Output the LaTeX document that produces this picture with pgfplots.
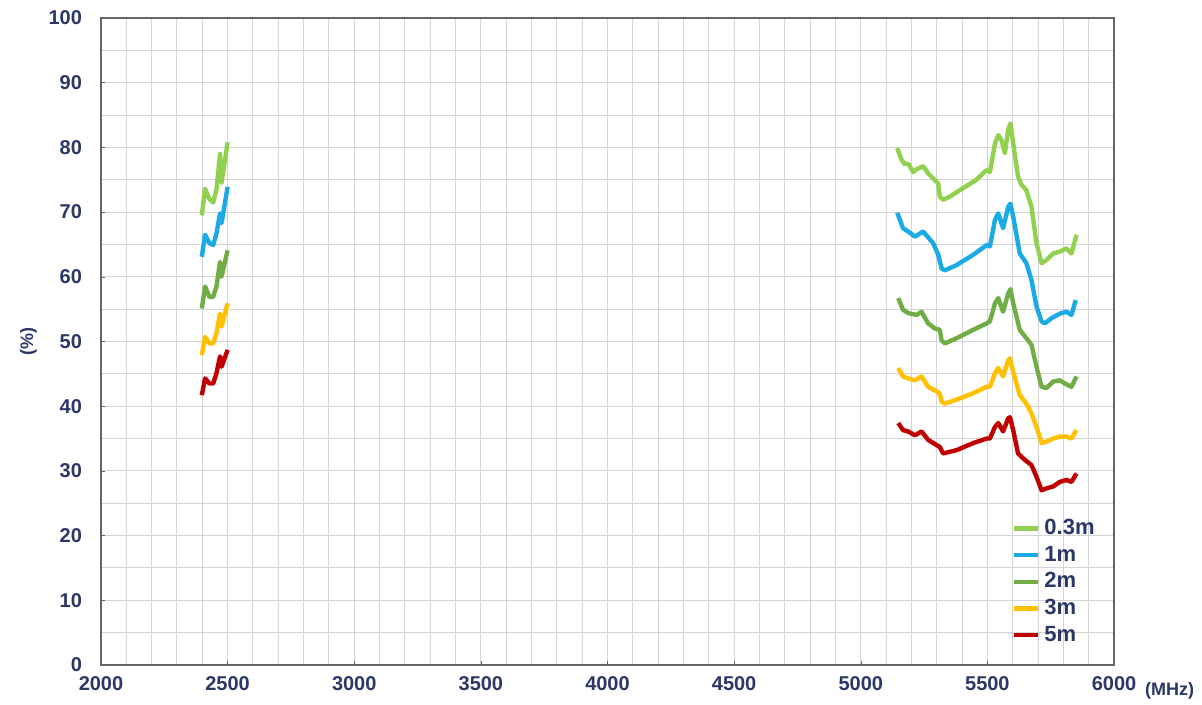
\documentclass[border=0pt]{standalone}
\usepackage{pgfplots}
\pgfplotsset{compat=1.18}
\usepackage{fontspec}
\setmainfont{Liberation Sans}
\definecolor{c03}{HTML}{92D050}
\definecolor{c1}{HTML}{1AABE6}
\definecolor{c2}{HTML}{70AD47}
\definecolor{c3}{HTML}{FFC000}
\definecolor{c5}{HTML}{C00000}
\definecolor{navy}{HTML}{2B3766}
\definecolor{gridc}{HTML}{D4D4D4}
\begin{document}
\begin{tikzpicture}
\begin{axis}[
  name=ax,
  scale only axis,
  width=506.5pt, height=323.5pt,
  xmin=2000, xmax=6000, ymin=0, ymax=100,
  xtick={2000,2500,...,6000},
  ytick={0,10,...,100},
  minor x tick num=4,
  minor y tick num=1,
  grid=both,
  major grid style={gridc, line width=0.5pt},
  minor grid style={gridc, line width=0.5pt},
  axis line style={draw=gray!80!black, line width=0.8pt},
  tick style={draw=gray!80!black},
  major tick length=2pt, minor tick length=0pt,
  tick pos=left,
  /pgf/number format/assume math mode=true,
  /pgf/number format/1000 sep={},
  ticklabel style={font=\fontsize{10}{12}\selectfont\bfseries, text=navy},
  xticklabel style={yshift=-2pt},
  yticklabel style={xshift=-6pt},
  ylabel={(\%)},
  ylabel style={font=\fontsize{9}{11}\selectfont\bfseries, text=navy, yshift=-1pt},
  legend style={draw=none, fill=none, at={(rel axis cs:0.899,0.232)}, anchor=north west,
    font=\fontsize{11}{13}\selectfont\bfseries, text=navy, row sep=0.2pt,
    inner sep=0pt},
  legend cell align=left,
  legend image code/.code={\draw[#1, line width=2.2pt] (0pt,0pt) -- (12pt,0pt);},
  every axis plot/.append style={line width=2.2pt, line join=round, mark=none},
]
% 2.4 GHz band
\addplot[c03, forget plot] coordinates {(2398,69.5)(2411,73.6)(2428,72.0)(2443,71.5)(2456,73.5)(2470,79.0)(2476,74.5)(2500,80.8)};
\addplot[c1, forget plot] coordinates {(2398,63.1)(2411,66.5)(2428,65.2)(2443,64.9)(2456,66.7)(2470,69.8)(2476,68.3)(2500,73.9)};
\addplot[c2, forget plot] coordinates {(2398,55.1)(2411,58.5)(2428,56.9)(2443,56.9)(2456,58.5)(2470,62.3)(2476,60.0)(2500,64.1)};
\addplot[c3, forget plot] coordinates {(2398,47.9)(2411,50.7)(2428,49.7)(2443,49.7)(2456,51.3)(2470,54.3)(2476,52.3)(2500,55.9)};
\addplot[c5, forget plot] coordinates {(2398,41.7)(2411,44.3)(2428,43.5)(2443,43.5)(2456,45.1)(2470,47.7)(2476,46.1)(2500,48.7)};
% 5 GHz band
\addplot[c03] coordinates {(5144,79.9)(5161,78.1)(5174,77.4)(5187,77.5)(5207,76.2)(5220,76.6)(5246,77.1)(5266,76.0)(5286,75.2)(5306,74.4)(5312,72.4)(5325,71.9)(5352,72.4)(5404,73.7)(5457,75.0)(5497,76.5)(5510,76.2)(5530,80.6)(5543,81.9)(5556,81.1)(5569,79.1)(5582,82.7)(5591,83.7)(5602,80.6)(5621,75.5)(5635,74.2)(5654,73.4)(5674,70.8)(5694,65.2)(5714,62.1)(5733,62.6)(5760,63.6)(5786,63.9)(5812,64.4)(5832,63.6)(5852,66.5)};
\addlegendentry{0.3m}
\addplot[c1] coordinates {(5144,69.9)(5167,67.5)(5187,67.0)(5214,66.2)(5246,67.0)(5286,65.2)(5306,63.4)(5319,61.3)(5332,61.0)(5378,61.8)(5444,63.4)(5497,64.9)(5510,64.7)(5530,68.8)(5543,69.8)(5562,67.5)(5582,70.8)(5591,71.3)(5602,69.3)(5628,63.6)(5654,62.1)(5674,59.5)(5694,55.4)(5714,53.1)(5727,52.8)(5753,53.6)(5786,54.3)(5812,54.6)(5832,54.1)(5849,56.4)};
\addlegendentry{1m}
\addplot[c2] coordinates {(5148,56.7)(5167,54.9)(5187,54.4)(5220,54.1)(5240,54.6)(5266,52.8)(5293,52.0)(5312,51.8)(5319,50.2)(5332,49.7)(5378,50.5)(5444,51.8)(5497,52.8)(5510,53.1)(5530,55.9)(5543,56.7)(5562,54.6)(5582,57.4)(5591,58.1)(5602,55.9)(5628,51.8)(5654,50.5)(5674,49.5)(5694,46.1)(5714,43.0)(5733,42.8)(5760,43.8)(5786,44.0)(5806,43.5)(5832,43.0)(5852,44.6)};
\addlegendentry{2m}
\addplot[c3] coordinates {(5148,45.9)(5167,44.6)(5187,44.3)(5214,44.0)(5240,44.6)(5266,43.0)(5299,42.3)(5312,42.0)(5319,40.7)(5332,40.4)(5378,41.0)(5444,42.0)(5497,43.0)(5510,43.0)(5530,45.1)(5543,45.9)(5562,44.6)(5582,47.1)(5589,47.4)(5602,45.3)(5628,41.7)(5654,40.4)(5674,38.9)(5694,36.8)(5714,34.3)(5733,34.5)(5760,35.0)(5786,35.3)(5812,35.3)(5832,35.0)(5852,36.3)};
\addlegendentry{3m}
\addplot[c5] coordinates {(5148,37.4)(5167,36.3)(5187,36.1)(5214,35.5)(5240,36.1)(5266,34.8)(5299,34.0)(5312,33.7)(5325,32.7)(5378,33.2)(5444,34.3)(5497,35.0)(5510,35.0)(5530,36.8)(5543,37.4)(5562,36.1)(5582,38.1)(5589,38.3)(5602,36.3)(5621,32.7)(5648,31.7)(5674,30.9)(5694,29.1)(5714,27.0)(5733,27.3)(5760,27.6)(5786,28.3)(5812,28.6)(5832,28.3)(5852,29.6)};
\addlegendentry{5m}
\end{axis}
\node[anchor=west, font=\fontsize{9}{11}\selectfont\bfseries, text=navy] at ([xshift=12pt,yshift=-13pt]ax.south east) {(MHz)};
\pgfresetboundingbox
\path ([xshift=-50.5pt, yshift=-20pt]ax.south west) rectangle ([xshift=44pt, yshift=9pt]ax.north east);
\end{tikzpicture}
\end{document}
